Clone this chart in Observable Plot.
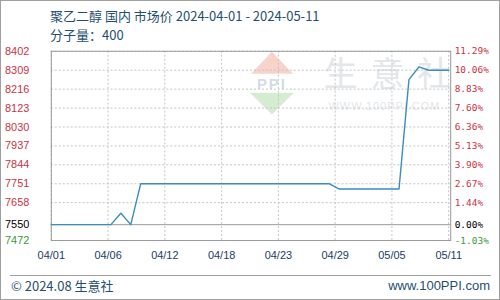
<!DOCTYPE html>
<html><head><meta charset="utf-8">
<script src="https://cdn.jsdelivr.net/npm/d3@7"></script>
<script src="https://cdn.jsdelivr.net/npm/@observablehq/plot@0.6"></script>
<style>
body{margin:0;background:#fff;}
#wrap{position:relative;width:500px;height:300px;overflow:hidden;box-sizing:border-box;border:1px solid #a0a0a0;font-family:"Liberation Sans",Arial,sans-serif;background:#fff;}
#wrap svg{position:absolute;left:-1px;top:-1px;}
.t{position:absolute;white-space:nowrap;color:#1f4f6f;line-height:1;}
</style></head><body>
<div id="wrap">
  <div class="t" style="left:49px;top:8px;font-size:13px;font-family:'Noto Sans CJK SC','Liberation Sans',sans-serif;">聚乙二醇 国内 市场价 2024-04-01 - 2024-05-11</div>
  <div class="t" style="left:49px;top:27px;font-size:13px;font-family:'Noto Sans CJK SC','Liberation Sans',sans-serif;">分子量：400</div>
  <div style="position:absolute;left:9px;top:274px;width:481px;height:1px;background:#a0a0a0;"></div>
  <div class="t" style="left:10px;top:278px;font-size:13px;font-family:'Noto Sans CJK SC','Liberation Sans',sans-serif;">© 2024.08 生意社</div>
  <div class="t" style="right:9px;top:278px;font-size:13px;font-family:'Liberation Sans',sans-serif;">www.100PPI.com</div>
</div>
<script>
// line vertices (date, price)
const dates = ["2024-04-01","2024-04-07","2024-04-08","2024-04-09","2024-04-10","2024-04-29","2024-04-30","2024-05-06","2024-05-07","2024-05-08","2024-05-09","2024-05-11"];
const prices = [7550,7550,7606,7550,7751,7751,7725,7725,8263,8325,8309,8309];
const xTickLabels = ["04/01","04/06","04/12","04/18","04/23","04/29","05/05","05/11"];
const yTicks = [7472,7550,7658,7751,7844,7937,8030,8123,8216,8309,8402];
const yPctLabels = ["-1.03%","0.00%","1.44%","2.67%","3.90%","5.13%","6.36%","7.60%","8.83%","10.06%","11.29%"];
const basePrice = 7550;

const start = new Date("2024-04-01"), end = new Date("2024-05-11");
const xTicks = xTickLabels.map((_, i) => new Date(+start + i * (end - start) / (xTickLabels.length - 1)));
const data = dates.map((d, i) => ({date: new Date(d), price: prices[i]}));
const tickColor = v => v > basePrice ? "#cc3344" : v < basePrice ? "#3a9a3a" : "#000";

const watermark = () => {
  const g = d3.create("svg:g");
  g.append("path").attr("d", "M273,52L252,74L294,74Z").attr("fill", "#f7d3cc");
  g.append("text").attr("x", 273).attr("y", 89).attr("text-anchor", "middle")
    .attr("font-size", 15).attr("font-weight", "bold").attr("font-family", "Liberation Sans")
    .attr("fill", "#d3dce8").attr("letter-spacing", 2).text("PPI");
  g.append("path").attr("d", "M251,93L295,93L273,115Z").attr("fill", "#d6ecd0");
  ["生","意","社"].forEach((c, i) => g.append("text").attr("x", 342 + i * 47).attr("y", 86)
    .attr("text-anchor", "middle").attr("font-size", 34).attr("font-family", "Noto Sans CJK SC")
    .attr("fill", "#e3e7eb").text(c));
  g.append("text").attr("x", 386).attr("y", 110).attr("text-anchor", "middle")
    .attr("font-size", 11).attr("font-family", "Liberation Sans").attr("fill", "#e3e7eb")
    .attr("letter-spacing", 1).text("WWW.100PPI.COM");
  return g.node();
};

const chart = Plot.plot({
  width: 500, height: 300,
  marginTop: 51, marginBottom: 59, marginLeft: 51, marginRight: 48,
  x: {type: "utc", domain: [start, end], range: [51, 450]},
  y: {domain: [7472, 8402]},
  style: {fontFamily: "Liberation Sans, Arial, sans-serif", fontSize: "11px", background: "transparent", overflow: "visible"},
  marks: [
    watermark,
    Plot.gridY(yTicks.filter(v => v !== basePrice), {stroke: "#c4c4c4", strokeOpacity: 1, strokeDasharray: "2,2"}),
    Plot.gridX(xTicks, {stroke: "#c4c4c4", strokeOpacity: 1, strokeDasharray: "2,2"}),
    Plot.ruleY([basePrice], {stroke: "#999"}),
    Plot.frame({stroke: "#999"}),
    Plot.line(data, {x: "date", y: "price", stroke: "#3a8dbd", strokeWidth: 1.4}),
    Plot.axisY(yTicks, {anchor: "left", tickSize: 0, tickPadding: 22, label: null, fill: d => tickColor(d),
      tickFormat: d => String(d), fontSize: 11}),
    Plot.axisY(yTicks, {anchor: "right", tickSize: 0, tickPadding: 4, label: null, fill: d => tickColor(d),
      tickFormat: d => yPctLabels[yTicks.indexOf(d)], fontFamily: "DejaVu Sans Mono", fontSize: 9.5}),
    Plot.axisX(xTicks, {anchor: "bottom", tickSize: 0, tickPadding: 11, label: null, fill: "#1a3d66",
      tickFormat: d => xTickLabels[xTicks.findIndex(t => +t === +d)], fontSize: 11})
  ]
});
document.getElementById("wrap").appendChild(chart);
</script>
</body></html>
